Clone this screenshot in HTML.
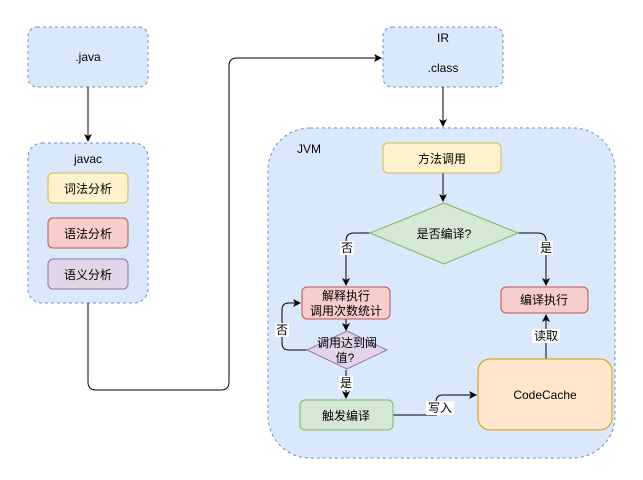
<!DOCTYPE html>
<html><head><meta charset="utf-8"><style>html,body{margin:0;padding:0;background:#fff}svg{display:block}text{font-family:"Liberation Sans","Noto Sans CJK SC",sans-serif;font-size:12px;fill:#000}</style></head><body>
<svg width="643" height="480" viewBox="0 0 643 480" xmlns="http://www.w3.org/2000/svg">
<defs><marker id="a" markerWidth="8" markerHeight="8" refX="7" refY="4" orient="auto" markerUnits="userSpaceOnUse"><path d="M0,0 L8,4 L0,8 L2,4z" fill="#000"/></marker></defs>
<g stroke="#6c8ebf" stroke-dasharray="3,3" fill="#dae8fc">
<rect x="28" y="27" width="120" height="60" rx="9"/>
<rect x="28" y="143" width="120" height="160" rx="14"/>
<rect x="383" y="27" width="120" height="60" rx="9"/>
<rect x="268" y="128" width="347" height="330" rx="42"/>
</g>
<text x="88" y="61" text-anchor="middle">.java</text>
<text x="88" y="163" text-anchor="middle">javac</text>
<rect x="48" y="173" width="80" height="30" rx="5" fill="#fff2cc" stroke="#d6b656"/>
<text x="88" y="193" text-anchor="middle">词法分析</text>
<rect x="48" y="218" width="80" height="30" rx="5" fill="#f8cecc" stroke="#b85450"/>
<text x="88" y="238" text-anchor="middle">语法分析</text>
<rect x="48" y="259" width="80" height="30" rx="5" fill="#e1d5e7" stroke="#9673a6"/>
<text x="88" y="279" text-anchor="middle">语义分析</text>
<text x="443" y="42" text-anchor="middle">IR</text>
<text x="443" y="72" text-anchor="middle">.class</text>
<text x="309" y="153" text-anchor="middle">JVM</text>
<g fill="none" stroke="#000" stroke-width="1">
<path d="M88,87 V141" marker-end="url(#a)"/>
<path d="M88,303 V382 Q88,390 96,390 H221 Q229,390 229,382 V66 Q229,58 237,58 H381" marker-end="url(#a)"/>
<path d="M443,87 V126" marker-end="url(#a)"/>
<path d="M443,173 V201" marker-end="url(#a)"/>
<path d="M370,233 H354 Q346,233 346,241 V285" marker-end="url(#a)"/>
<path d="M518,233 H538 Q546,233 546,241 V285" marker-end="url(#a)"/>
<path d="M346,319 V330" marker-end="url(#a)"/>
<path d="M308,350 H289 Q282,350 282,343 V310 Q282,303 289,303 H300" marker-end="url(#a)"/>
<path d="M346,370 V398" marker-end="url(#a)"/>
<path d="M393,415 H436 V402 Q436,395 443,395 H476" marker-end="url(#a)"/>
<path d="M546,359 V315" marker-end="url(#a)"/>
</g>
<rect x="383" y="143" width="118" height="30" rx="5" fill="#fff2cc" stroke="#d6b656"/>
<text x="442" y="163" text-anchor="middle">方法调用</text>
<polygon points="444,203 518,233 444,264 370,233" fill="#d5e8d4" stroke="#82b366"/>
<text x="444" y="238" text-anchor="middle">是否编译?</text>
<rect x="302" y="287" width="88" height="32" rx="5" fill="#f8cecc" stroke="#b85450"/>
<text x="346" y="300" text-anchor="middle">解释执行</text>
<text x="346" y="315" text-anchor="middle">调用次数统计</text>
<rect x="501" y="287" width="87" height="26" rx="5" fill="#f8cecc" stroke="#b85450"/>
<text x="544" y="304" text-anchor="middle">编译执行</text>
<polygon points="347,331 387,350 347,369 307,350" fill="#e1d5e7" stroke="#9673a6"/>
<text x="347" y="347" text-anchor="middle">调用达到阈</text>
<text x="345" y="362" text-anchor="middle">值?</text>
<rect x="300" y="400" width="93" height="30" rx="5" fill="#d5e8d4" stroke="#82b366"/>
<text x="346" y="420" text-anchor="middle">触发编译</text>
<rect x="478" y="359" width="134" height="71" rx="12" fill="#ffe6cc" stroke="#d79b00"/>
<text x="545" y="399" text-anchor="middle">CodeCache</text>
<g>
<rect x="340" y="241" width="14" height="14" fill="#fff"/><text x="347" y="252" text-anchor="middle">否</text>
<rect x="539" y="241" width="14" height="14" fill="#fff"/><text x="546" y="252" text-anchor="middle">是</text>
<rect x="275" y="323" width="14" height="14" fill="#fff"/><text x="282" y="334" text-anchor="middle">否</text>
<rect x="339" y="376" width="14" height="14" fill="#fff"/><text x="346" y="387" text-anchor="middle">是</text>
<rect x="426" y="401" width="28" height="14" fill="#fff"/><text x="440" y="412" text-anchor="middle">写入</text>
<rect x="532" y="329" width="28" height="14" fill="#fff"/><text x="546" y="340" text-anchor="middle">读取</text>
</g>
</svg>
</body></html>
